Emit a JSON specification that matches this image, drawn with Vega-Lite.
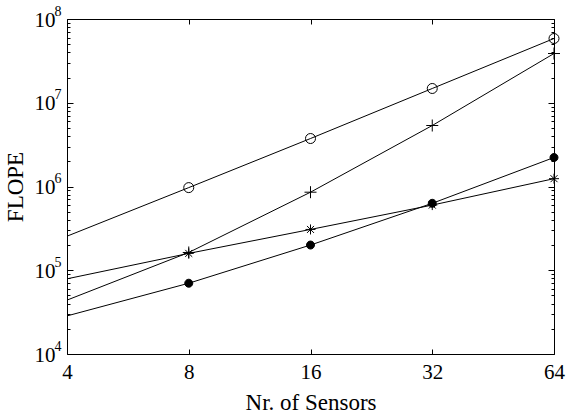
{
  "$schema": "https://vega.github.io/schema/vega-lite/v6.json",
  "autosize": {"type": "none"},
  "width": 487,
  "height": 335,
  "padding": {"left": 67, "top": 19, "right": 13, "bottom": 63},
  "background": "white",
  "config": {
    "view": {"stroke": "black", "strokeWidth": 1},
    "font": "Liberation Serif",
    "axis": {
      "labelFont": "Liberation Serif",
      "titleFont": "Liberation Serif",
      "labelFontSize": 21,
      "titleFontSize": 23,
      "titleFontWeight": "normal",
      "labelColor": "black",
      "titleColor": "black",
      "tickColor": "black",
      "domain": false,
      "grid": false,
      "tickWidth": 1
    }
  },
  "data": {
    "values": [
      {"sensors": 4, "flope": 255000, "series": "circle"},
      {"sensors": 8, "flope": 970000, "series": "circle"},
      {"sensors": 16, "flope": 3740000, "series": "circle"},
      {"sensors": 32, "flope": 14800000, "series": "circle"},
      {"sensors": 64, "flope": 58500000, "series": "circle"},
      {"sensors": 4, "flope": 44000, "series": "plus"},
      {"sensors": 8, "flope": 163000, "series": "plus"},
      {"sensors": 16, "flope": 855000, "series": "plus"},
      {"sensors": 32, "flope": 5350000, "series": "plus"},
      {"sensors": 64, "flope": 38700000, "series": "plus"},
      {"sensors": 4, "flope": 79000, "series": "star"},
      {"sensors": 8, "flope": 159000, "series": "star"},
      {"sensors": 16, "flope": 307000, "series": "star"},
      {"sensors": 32, "flope": 600000, "series": "star"},
      {"sensors": 64, "flope": 1240000, "series": "star"},
      {"sensors": 4, "flope": 28500, "series": "dot"},
      {"sensors": 8, "flope": 70000, "series": "dot"},
      {"sensors": 16, "flope": 200000, "series": "dot"},
      {"sensors": 32, "flope": 630000, "series": "dot"},
      {"sensors": 64, "flope": 2220000, "series": "dot"}
    ]
  },
  "layer": [
    {
      "mark": {"type": "line", "color": "black", "strokeWidth": 1, "clip": true},
      "encoding": {
        "x": {
          "field": "sensors", "type": "quantitative",
          "scale": {"type": "log", "base": 2, "domain": [4, 64], "nice": false},
          "axis": {"orient": "bottom", "title": "Nr. of Sensors", "values": [4, 8, 16, 32, 64], "tickSize": -5, "labelPadding": 12, "titlePadding": 9, "labelFlush": false}
        },
        "y": {
          "field": "flope", "type": "quantitative",
          "scale": {"type": "log", "domain": [10000, 100000000], "nice": false},
          "axis": {
            "orient": "left", "title": "FLOPE",
            "values": [10000, 20000, 30000, 40000, 50000, 60000, 70000, 80000, 90000, 100000, 200000, 300000, 400000, 500000, 600000, 700000, 800000, 900000, 1000000, 2000000, 3000000, 4000000, 5000000, 6000000, 7000000, 8000000, 9000000, 10000000, 20000000, 30000000, 40000000, 50000000, 60000000, 70000000, 80000000, 90000000, 100000000],
            "tickSize": {"condition": {"test": "abs(log(datum.value)/LN10 - round(log(datum.value)/LN10)) < 1e-6", "value": -6}, "value": -3},
            "labelExpr": "abs(log(datum.value)/LN10 - round(log(datum.value)/LN10)) < 1e-6 ? '10' : ''",
            "labelPadding": 18,
            "labelBaseline": "middle",
            "labelOffset": 1,
            "titlePadding": 7,
            "labelFlush": false
          }
        },
        "detail": {"field": "series"}
      }
    },
    {
      "transform": [{"filter": "datum.sensors >= 8"}],
      "mark": {"type": "point", "filled": false, "stroke": "black", "strokeWidth": 1, "opacity": 1, "size": 100, "clip": false},
      "encoding": {
        "x": {
          "field": "sensors", "type": "quantitative",
          "axis": {"orient": "top", "title": null, "labels": false, "values": [4, 8, 16, 32, 64], "tickSize": -5}
        },
        "y": {
          "field": "flope", "type": "quantitative",
          "axis": {
            "orient": "right", "title": null, "labels": false,
            "values": [10000, 20000, 30000, 40000, 50000, 60000, 70000, 80000, 90000, 100000, 200000, 300000, 400000, 500000, 600000, 700000, 800000, 900000, 1000000, 2000000, 3000000, 4000000, 5000000, 6000000, 7000000, 8000000, 9000000, 10000000, 20000000, 30000000, 40000000, 50000000, 60000000, 70000000, 80000000, 90000000, 100000000],
            "tickSize": {"condition": {"test": "abs(log(datum.value)/LN10 - round(log(datum.value)/LN10)) < 1e-6", "value": -6}, "value": -3}
          }
        },
        "shape": {
          "field": "series", "type": "nominal", "legend": null,
          "scale": {"domain": ["circle", "plus", "star", "dot"], "range": ["circle", "M-1.2,0H1.2M0,-1.2V1.2", "M-1,0H1M0,-1V1M-0.7,-0.7L0.7,0.7M-0.7,0.7L0.7,-0.7", "M-0.8,0A0.8,0.8 0 1,0 0.8,0A0.8,0.8 0 1,0 -0.8,0Z"]}
        },
        "fill": {
          "field": "series", "type": "nominal", "legend": null,
          "scale": {"domain": ["circle", "plus", "star", "dot"], "range": ["transparent", "transparent", "transparent", "black"]}
        }
      }
    },
    {
      "mark": {"type": "point", "opacity": 0},
      "encoding": {
        "x": {"field": "sensors", "type": "quantitative", "axis": null},
        "y": {
          "field": "flope", "type": "quantitative",
          "axis": {
            "orient": "left", "title": null, "ticks": false,
            "values": [10000, 100000, 1000000, 10000000, 100000000],
            "labelExpr": "format(round(log(datum.value)/LN10), 'd')",
            "labelFontSize": 14,
            "labelAlign": "left",
            "labelBaseline": "middle",
            "labelPadding": 13,
            "labelOffset": -8,
            "labelFlush": false
          }
        }
      }
    }
  ],
  "resolve": {"axis": {"x": "independent", "y": "independent"}}
}
